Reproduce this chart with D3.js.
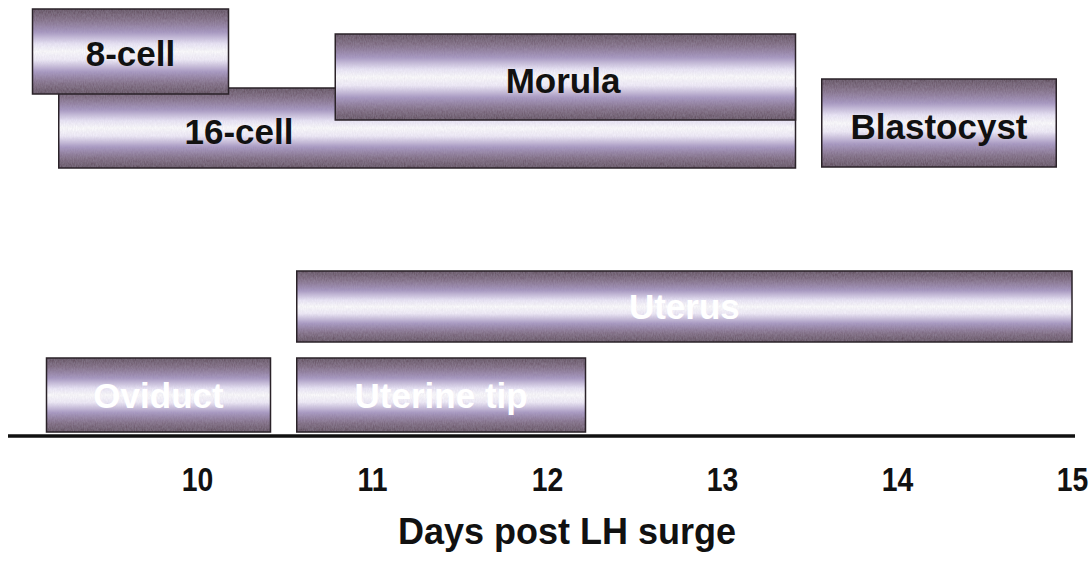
<!DOCTYPE html>
<html><head><meta charset="utf-8">
<script src="https://cdn.jsdelivr.net/npm/d3@7"></script>
<style>body{margin:0;background:#fff;}svg{display:block;}</style>
</head><body>
<svg id="c" width="1092" height="561"></svg>
<script>
// ---- data ----
const stageNames  = ["16-cell", "8-cell", "Morula", "Blastocyst"];
const stageStart  = [9.21, 9.06, 10.79, 13.57];
const stageEnd    = [13.42, 10.18, 13.42, 14.91];
const siteNames   = ["Uterus", "Oviduct", "Uterine tip"];
const siteStart   = [10.57, 9.14, 10.57];
const siteEnd     = [15.0, 10.42, 12.22];
const tickValues  = [10, 11, 12, 13, 14, 15];
const axisTitle   = "Days post LH surge";

// ---- layout (positions only) ----
const stageLayout = {
  "16-cell":   {y: 88, h: 80, lx: 239, ly: 131},
  "8-cell":    {y: 9,  h: 85, lx: null, ly: 53},
  "Morula":    {y: 34, h: 86, lx: 563, ly: 80},
  "Blastocyst":{y: 79, h: 88, lx: null, ly: 126}
};
const siteLayout = {
  "Uterus":      {y: 271, h: 71},
  "Oviduct":     {y: 358, h: 74},
  "Uterine tip": {y: 358, h: 74}
};

const FONT = "Liberation Sans, Arial, sans-serif";
const svg = d3.select("#c");
const x = d3.scaleLinear().domain([10, 15]).range([197, 1072]);

const defs = svg.append("defs");
const g = defs.append("linearGradient").attr("id","tube").attr("x1",0).attr("y1",0).attr("x2",0).attr("y2",1);
[[0,"#56424f"],[0.12,"#78637a"],[0.27,"#a292bd"],[0.41,"#ece8f8"],[0.5,"#ffffff"],[0.6,"#f2eefa"],[0.74,"#a494bf"],[0.88,"#78637a"],[1,"#56424f"]]
  .forEach(([o,c]) => g.append("stop").attr("offset",o).attr("stop-color",c));

const flt = defs.append("filter").attr("id","grain").attr("x",0).attr("y",0).attr("width",1).attr("height",1);
flt.append("feTurbulence").attr("type","fractalNoise").attr("baseFrequency","0.9 0.35").attr("numOctaves",2).attr("seed",3).attr("result","n");
flt.append("feColorMatrix").attr("in","n").attr("type","matrix")
  .attr("values","0 0 0 0 0.5  0 0 0 0 0.45  0 0 0 0 0.6  0 0 0 0.35 0").attr("result","nc");
flt.append("feComposite").attr("in","nc").attr("in2","SourceGraphic").attr("operator","atop");

const stages = stageNames.map((n,i)=>({name:n, s:stageStart[i], e:stageEnd[i], ...stageLayout[n]}));
const sites  = siteNames.map((n,i)=>({name:n, s:siteStart[i], e:siteEnd[i], ...siteLayout[n]}));

function drawBars(data, textColor){
  const grp = svg.append("g");
  const b = grp.selectAll("g.bar").data(data).join("g").attr("class","bar");
  b.append("rect")
    .attr("x", d=>x(d.s)).attr("y", d=>d.y)
    .attr("width", d=>x(d.e)-x(d.s)).attr("height", d=>d.h)
    .attr("fill","url(#tube)");
  b.append("rect")
    .attr("x", d=>x(d.s)).attr("y", d=>d.y)
    .attr("width", d=>x(d.e)-x(d.s)).attr("height", d=>d.h)
    .attr("fill","url(#tube)").attr("filter","url(#grain)").attr("opacity",0.9);
  b.append("rect")
    .attr("x", d=>x(d.s)).attr("y", d=>d.y)
    .attr("width", d=>x(d.e)-x(d.s)).attr("height", d=>d.h)
    .attr("fill","none").attr("stroke","#2a2228").attr("stroke-width",1.5);
  b.append("text")
    .attr("x", d=> d.lx!=null ? d.lx : (x(d.s)+x(d.e))/2)
    .attr("y", d=> d.ly!=null ? d.ly : d.y + d.h/2)
    .attr("text-anchor","middle").attr("dominant-baseline","central")
    .attr("font-family",FONT).attr("font-weight","bold")
    .attr("font-size",35).attr("fill",textColor)
    .text(d=>d.name);
}
drawBars(stages, "#111");
drawBars(sites, "#ffffff");

// axis
const axis = d3.axisBottom(x).tickValues(tickValues).tickSize(0).tickPadding(32).tickFormat(d3.format("d"));
const ax = svg.append("g").attr("transform","translate(0,436)").call(axis);
ax.select(".domain").remove();
ax.selectAll("text").attr("font-family",FONT).attr("font-weight","bold")
  .attr("font-size",33).attr("fill","#111").attr("transform","scale(0.86,1)");
svg.append("line").attr("x1",8).attr("x2",1075).attr("y1",436).attr("y2",436)
  .attr("stroke","#111").attr("stroke-width",3.5);

svg.append("text").attr("x",567).attr("y",531).attr("text-anchor","middle").attr("dominant-baseline","central")
  .attr("font-family",FONT).attr("font-weight","bold")
  .attr("font-size",36).attr("fill","#111").text(axisTitle);
</script>
</body></html>
